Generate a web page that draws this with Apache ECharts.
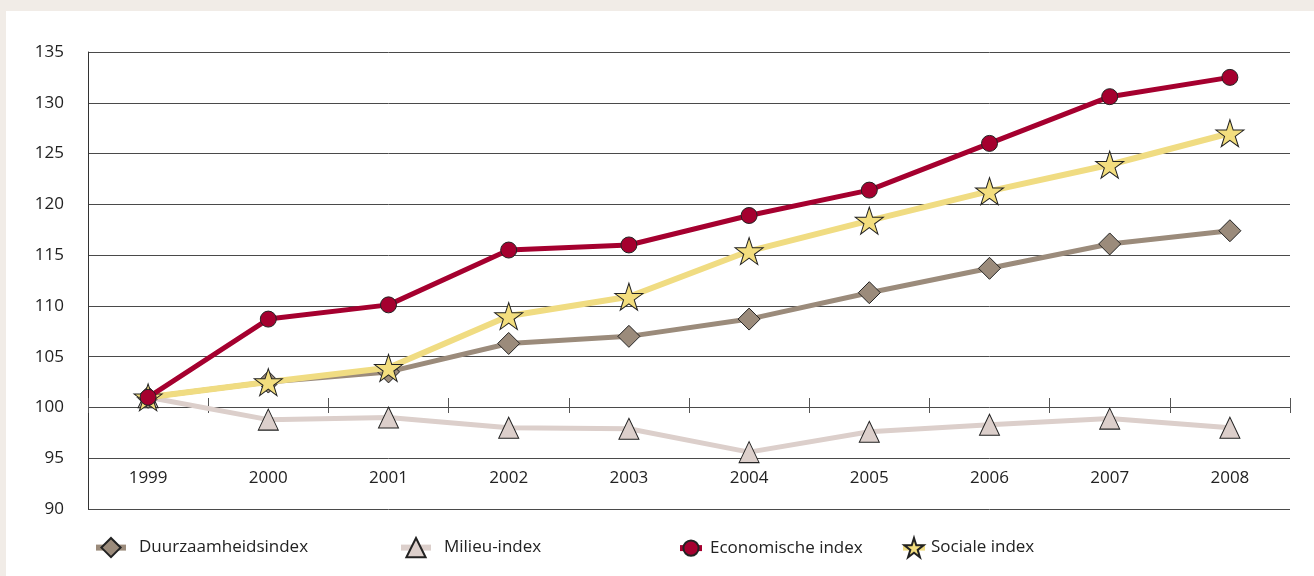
<!DOCTYPE html>
<html>
<head>
<meta charset="utf-8">
<script src="https://cdn.jsdelivr.net/npm/echarts@6/dist/echarts.min.js"></script>
<style>
html,body{margin:0;padding:0;background:#f1ece7;}
#panel{position:absolute;left:6px;top:11px;width:1308px;height:565px;background:#fff;}
#chart{position:absolute;left:0;top:0;width:1314px;height:576px;}
</style>
</head>
<body>
<div id="panel"></div>
<div id="chart"></div>
<script>
const years = ['1999','2000','2001','2002','2003','2004','2005','2006','2007','2008'];
const yTicks = [90, 95, 100, 105, 110, 115, 120, 125, 130, 135];
const duurzaamheid = [101.0, 102.5, 103.5, 106.3, 107.0, 108.7, 111.3, 113.7, 116.1, 117.4];
const milieu = [101.0, 98.8, 99.0, 98.0, 97.9, 95.6, 97.6, 98.3, 98.9, 98.0];
const economisch = [101.0, 108.7, 110.1, 115.5, 116.0, 118.9, 121.4, 126.0, 130.6, 132.5];
const sociaal = [101.0, 102.5, 103.9, 109.0, 110.9, 115.4, 118.4, 121.3, 123.9, 127.0];
const names = ['Duurzaamheidsindex', 'Milieu-index', 'Economische index', 'Sociale index'];

const FONT = '"Open Sans", "Noto Sans", sans-serif';
const chart = echarts.init(document.getElementById('chart'), null, {renderer: 'canvas'});

function legend(name, left, w, h, pad) {
  return {
    data: [name], left: left, top: 544 - h / 2, orient: 'horizontal',
    itemWidth: w, itemHeight: h,
    lineStyle: {width: 6},
    textStyle: {fontFamily: FONT, fontSize: 17, color: '#222', padding: [0, 0, 0, pad], verticalAlign: 'middle'},
    selectedMode: false
  };
}

chart.setOption({
  animation: false,
  backgroundColor: 'transparent',
  grid: {left: 88, right: 24, top: 52, bottom: 67},
  legend: [
    legend(names[0], 88, 30, 24, 8),
    legend(names[1], 393, 30, 24, 8),
    legend(names[2], 672, 22, 19, 3),
    legend(names[3], 895, 22, 24, 1)
  ],
  xAxis: [
    {
      type: 'category', data: years, position: 'bottom', boundaryGap: true,
      axisLine: {show: false}, axisTick: {show: false},
      axisLabel: {inside: true, margin: 22, fontFamily: FONT, fontSize: 17, color: '#222'}
    },
    {
      type: 'category', data: years, position: 'bottom', boundaryGap: true, offset: -111,
      axisLine: {show: false},
      axisTick: {show: true, length: 15, lineStyle: {color: '#555', width: 1}},
      axisLabel: {show: false}
    }
  ],
  yAxis: {
    type: 'value', min: 90, max: 135, interval: 5,
    axisLine: {show: true, lineStyle: {color: '#333', width: 1}},
    axisTick: {show: false},
    axisLabel: {margin: 24, fontFamily: FONT, fontSize: 17, color: '#222'},
    splitLine: {show: true, lineStyle: {color: '#4a4a4a', width: 1}}
  },
  series: [
    {
      name: names[1], type: 'line', data: milieu, xAxisIndex: 0,
      symbol: 'triangle', symbolSize: [20, 21],
      lineStyle: {color: '#dccfcb', width: 5},
      itemStyle: {color: '#dccfcb', borderColor: '#222', borderWidth: 1}, z: 2
    },
    {
      name: names[0], type: 'line', data: duurzaamheid, xAxisIndex: 0,
      symbol: 'diamond', symbolSize: [22, 22],
      lineStyle: {color: '#9b8b7b', width: 5},
      itemStyle: {color: '#9b8b7b', borderColor: '#222', borderWidth: 1}, z: 3
    },
    {
      name: names[3], type: 'line', data: sociaal, xAxisIndex: 0,
      symbol: 'path://M50,0 L61.8,36.2 L100,36.2 L69.1,58.8 L80.9,95.1 L50,72.7 L19.1,95.1 L30.9,58.8 L0,36.2 L38.2,36.2 Z',
      symbolSize: [28, 27],
      lineStyle: {color: '#f0dc82', width: 6},
      itemStyle: {color: '#f3de7e', borderColor: '#222', borderWidth: 1}, z: 4
    },
    {
      name: names[2], type: 'line', data: economisch, xAxisIndex: 0,
      symbol: 'circle', symbolSize: 16,
      lineStyle: {color: '#a5002f', width: 5},
      itemStyle: {color: '#a5002f', borderColor: '#222', borderWidth: 1}, z: 5
    }
  ]
});
</script>
</body>
</html>
